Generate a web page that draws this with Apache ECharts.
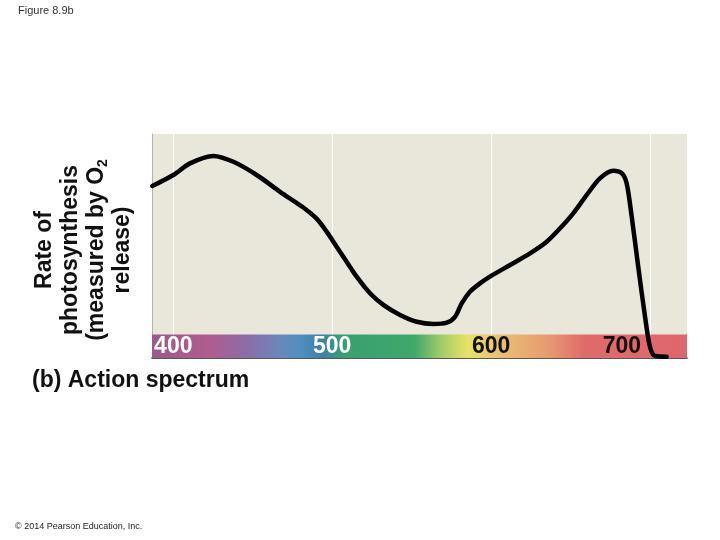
<!DOCTYPE html>
<html>
<head>
<meta charset="utf-8">
<title>Figure 8.9b</title>
<script src="https://cdn.jsdelivr.net/npm/echarts@6/dist/echarts.min.js"></script>
<style>
  html, body { margin: 0; padding: 0; background: #fff; }
  #chart { width: 720px; height: 540px; }
</style>
</head>
<body>
<div id="chart"></div>
<script>
// wavelength (nm) and relative rate
const wavelength = [386.8, 400, 410.5, 425.2, 437.8, 452.5, 467.2, 481.8, 490.2, 496.5, 502.8, 509.1, 515.4, 523.8, 532.2, 542.7, 553.2, 563.6, 572.1, 577.3, 581.5, 586.7, 593, 599.3, 611.9, 624.5, 635, 643.4, 651.7, 660.2, 668.5, 676.9, 682.2, 685.3, 688.5, 692.6, 696.9, 700, 703.2, 710.5]
const rate = [76.8, 81.7, 86.9, 90.2, 87.6, 81.7, 74.2, 67.2, 62.2, 56.4, 49.7, 43.0, 36.3, 28.9, 23.7, 19.2, 16.2, 15.2, 15.8, 18.4, 24.4, 29.6, 33.3, 36.3, 41.5, 46.7, 51.9, 57.9, 64.6, 72.8, 80.2, 83.6, 82.5, 78.0, 63.1, 40.8, 18.4, 5.0, 0.9, 0.6]
const tickValues = [400, 500, 600, 700]
const tickColors = ['#fff', '#fff', '#111', '#111']
const gridLines = [400, 500, 600, 700]

const xMin = 386.6
const xMax = 723.3
const bandTop = 10.5 // top of the colour spectrum strip, in rate units

const chart = echarts.init(document.getElementById('chart'))

chart.setOption({
  animation: false,
  textStyle: { fontFamily: 'Liberation Sans' },
  grid: {
    left: 152,
    right: 33,
    top: 134,
    bottom: 182,
    show: true,
    backgroundColor: '#e9e6da',
    borderWidth: 0
  },
  xAxis: {
    type: 'value',
    min: xMin,
    max: xMax,
    axisLine: { show: true, lineStyle: { color: '#222', width: 1.5 } },
    axisTick: { show: false },
    splitLine: { show: false },
    axisLabel: { show: false }
  },
  yAxis: {
    type: 'value',
    min: 0,
    max: 100,
    axisLine: { show: true, lineStyle: { color: '#b5b2a8', width: 1 } },
    axisTick: { show: false },
    axisLabel: { show: false },
    splitLine: { show: false }
  },
  graphic: [
    {
      type: 'text',
      left: 18,
      top: 5,
      style: { text: 'Figure 8.9b', fontSize: 11, fill: '#333', fontFamily: 'Liberation Sans' }
    },
    {
      type: 'text',
      x: 84,
      y: 250,
      rotation: Math.PI / 2,
      style: {
        text: 'Rate of\nphotosynthesis\n(measured by O{sub|2}\nrelease)',
        align: 'center',
        verticalAlign: 'middle',
        fontFamily: 'Liberation Sans',
        fontWeight: 'bold',
        fontSize: 23,
        lineHeight: 26,
        fill: '#111',
        rich: {
          sub: { fontSize: 14, fontWeight: 'bold', verticalAlign: 'bottom', lineHeight: 26, fontFamily: 'Liberation Sans' }
        }
      }
    },
    {
      type: 'text',
      left: 32,
      top: 369,
      style: { text: '(b) Action spectrum', fontSize: 23, fontWeight: 'bold', fill: '#111', fontFamily: 'Liberation Sans' }
    },
    {
      type: 'text',
      left: 15,
      top: 522,
      style: { text: '© 2014 Pearson Education, Inc.', fontSize: 9, fill: '#222', fontFamily: 'Liberation Sans' }
    }
  ],
  series: [
    {
      type: 'line',
      data: wavelength.map((w, i) => [w, rate[i]]),
      smooth: 0.3,
      showSymbol: false,
      silent: true,
      z: 5,
      lineStyle: { color: '#000', width: 4.5, cap: 'round', join: 'round' },
      markArea: {
        silent: true,
        itemStyle: {
          color: new echarts.graphic.LinearGradient(0, 0, 1, 0, [
            { offset: 0, color: '#9a5a8a' },
            { offset: 0.105, color: '#b05c8e' },
            { offset: 0.18, color: '#8a6ea8' },
            { offset: 0.24, color: '#6a88bc' },
            { offset: 0.277, color: '#4d90c0' },
            { offset: 0.318, color: '#3e80a8' },
            { offset: 0.36, color: '#38a070' },
            { offset: 0.49, color: '#3fa86a' },
            { offset: 0.54, color: '#a0cc68' },
            { offset: 0.59, color: '#e8e264' },
            { offset: 0.65, color: '#eac070' },
            { offset: 0.74, color: '#e89a72' },
            { offset: 0.81, color: '#e06a6a' },
            { offset: 1, color: '#e0666e' }
          ])
        },
        data: [[{ coord: [xMin, 0] }, { coord: [xMax, bandTop] }]]
      },
      markLine: {
        silent: true,
        symbol: 'none',
        label: { show: false },
        lineStyle: { color: '#fff', width: 1, type: 'solid' },
        data: gridLines.map(v => [{ coord: [v, bandTop] }, { coord: [v, 100] }])
      }
    },
    {
      // wavelength labels sitting in the spectrum strip
      type: 'scatter',
      silent: true,
      z: 4,
      symbol: 'rect',
      symbolSize: 1,
      itemStyle: { color: 'transparent', opacity: 1 },
      data: tickValues.map((v, i) => ({
        value: [v, bandTop / 2],
        label: {
          color: tickColors[i],
          offset: v === 700 ? [-28, 0] : [0, 0]
        }
      })),
      label: {
        show: true,
        position: 'inside',
        opacity: 1,
        formatter: p => String(p.value[0]),
        fontFamily: 'Liberation Sans',
        fontWeight: 'bold',
        fontSize: 23
      }
    }
  ]
})
</script>
</body>
</html>
